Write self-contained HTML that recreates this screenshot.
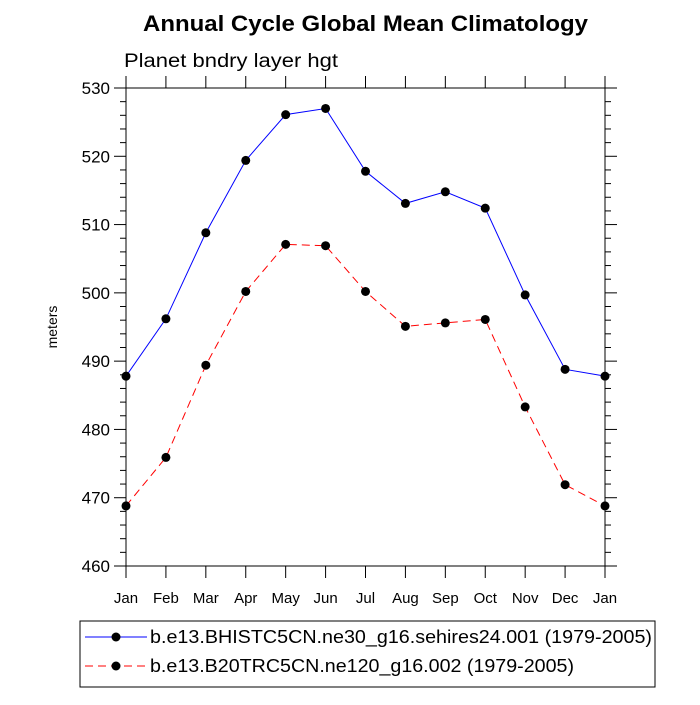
<!DOCTYPE html>
<html><head><meta charset="utf-8"><style>body{margin:0;background:#fff}svg{font-family:"Liberation Sans",sans-serif}</style></head>
<body>
<svg id="c" width="700" height="700">
<text x="143" y="31" font-size="22" font-weight="bold" textLength="445" lengthAdjust="spacingAndGlyphs">Annual Cycle Global Mean Climatology</text>
<text x="124" y="67" font-size="19" textLength="214" lengthAdjust="spacingAndGlyphs">Planet bndry layer hgt</text>
<text transform="translate(57,327) rotate(-90)" text-anchor="middle" font-size="14">meters</text>
<g id="g"></g>
<g>
<rect x="80" y="621" width="575" height="66" fill="none" stroke="#000"/>
<g>
<line x1="85" y1="637" x2="147" y2="637" stroke="#00f"/><circle cx="116" cy="637" r="4.5"/>
<text x="150" y="643" font-size="18" textLength="502" lengthAdjust="spacingAndGlyphs">b.e13.BHISTC5CN.ne30_g16.sehires24.001 (1979-2005)</text></g>
<g>
<line x1="85" y1="666" x2="147" y2="666" stroke="#f00" stroke-dasharray="8,5"/><circle cx="116" cy="666" r="4.5"/>
<text x="150" y="672" font-size="18" textLength="424" lengthAdjust="spacingAndGlyphs">b.e13.B20TRC5CN.ne120_g16.002 (1979-2005)</text></g>
</g>
</svg>
<script>
const months=["Jan","Feb","Mar","Apr","May","Jun","Jul","Aug","Sep","Oct","Nov","Dec","Jan"];
const blueValues=[487.8,496.2,508.8,519.4,526.1,527.0,517.8,513.1,514.8,512.4,499.7,488.8,487.8];
const redValues=[468.8,475.9,489.4,500.2,507.1,506.9,500.2,495.1,495.6,496.1,483.3,471.9,468.8];
const yTicks=[460,470,480,490,500,510,520,530];
const X0=126,X1=605,Y0=566,Y1=88,ymin=460,ymax=530;
const xs=i=>X0+(X1-X0)*i/(months.length-1);
const ys=v=>Y0-(v-ymin)/(ymax-ymin)*(Y0-Y1);
const g=document.getElementById('g');const NS="http://www.w3.org/2000/svg";
function mk(t,a,p){const e=document.createElementNS(NS,t);for(const k in a)e.setAttribute(k,a[k]);(p||g).appendChild(e);return e;}
const frame=mk('rect',{x:X0,y:Y1,width:X1-X0,height:Y0-Y1,fill:'none',stroke:'#000'});


yTicks.forEach((v,i)=>{const y=ys(v);
mk('line',{x1:X0-12,y1:y,x2:X0,y2:y,stroke:'#000'});mk('line',{x1:X1,y1:y,x2:X1+12,y2:y,stroke:'#000'});
const t=mk('text',{x:X0-16,y:y+6,'text-anchor':'end','font-size':17});t.textContent=v;


if(i<yTicks.length-1)for(let k=1;k<5;k++){const yy=ys(v+k*2);
mk('line',{x1:X0-6,y1:yy,x2:X0,y2:yy,stroke:'#000'});mk('line',{x1:X1,y1:yy,x2:X1+6,y2:yy,stroke:'#000'});}});
months.forEach((m,i)=>{const x=xs(i);
mk('line',{x1:x,y1:Y0,x2:x,y2:Y0+12,stroke:'#000'});mk('line',{x1:x,y1:Y1-12,x2:x,y2:Y1,stroke:'#000'});
const t=mk('text',{x:x,y:Y0+37,'text-anchor':'middle','font-size':15});t.textContent=m;

});
function series(vals,color,dash,name){
const p=mk('polyline',{points:vals.map((v,i)=>xs(i)+','+ys(v)).join(' '),fill:'none',stroke:color,'stroke-dasharray':dash});


vals.forEach((v,i)=>{const c=mk('circle',{cx:xs(i),cy:ys(v),r:4.5});

});}
series(blueValues,'#00f','none','blue-series');
series(redValues,'#f00','8,5','red-series');
</script>
</body></html>
